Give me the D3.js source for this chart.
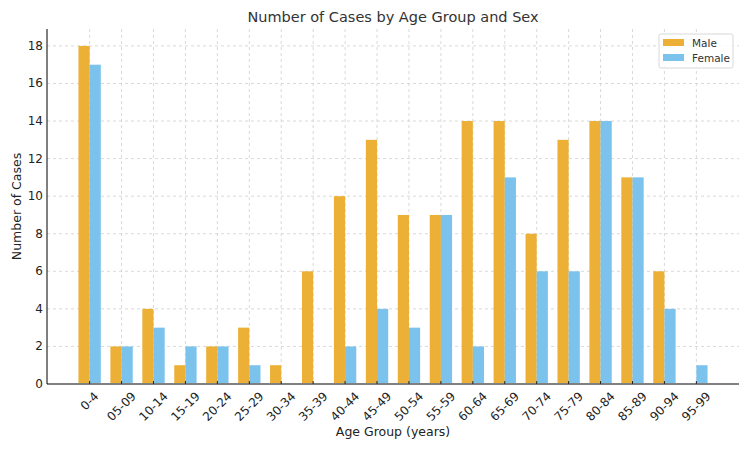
<!DOCTYPE html>
<html>
<head>
<meta charset="utf-8">
<script src="https://cdn.jsdelivr.net/npm/d3@7"></script>
<style>
  body { margin: 0; background: #fff; }
  svg { font-family: "DejaVu Sans", sans-serif; }
  .grid line { stroke: #cfcfcf; stroke-dasharray: 3,3; stroke-width: 0.8; }
</style>
</head>
<body>
<div id="chart"></div>
<script>
'use strict';

const ageGroups = ['0-4', '05-09', '10-14', '15-19', '20-24', '25-29', '30-34', '35-39', '40-44', '45-49',
    '50-54', '55-59', '60-64', '65-69', '70-74', '75-79', '80-84', '85-89', '90-94', '95-99'];
const maleCases = [18, 2, 4, 1, 2, 3, 1, 6, 10, 13, 9, 9, 14, 14, 8, 13, 14, 11, 6, 0];
const femaleCases = [17, 2, 3, 2, 2, 1, 0, 0, 2, 4, 3, 9, 2, 11, 6, 6, 14, 11, 4, 1];
const yTicks = [0, 2, 4, 6, 8, 10, 12, 14, 16, 18];
const seriesNames = ['Male', 'Female'];
const seriesColors = ['#ebb035', '#7bc3ec'];

// Config
const w = 750, h = 450;
const margin = {top: 29, right: 11, bottom: 66, left: 47};
const plotW = w - margin.left - margin.right;
const plotH = h - margin.top - margin.bottom;
const barW = 0.35;

const svg = d3.select('#chart')
    .append('svg')
    .attr('width', w)
    .attr('height', h);

const g = svg.append('g')
    .attr('transform', `translate(${margin.left},${margin.top})`);

// Scales (matplotlib-like 5% margins)
const lo = -barW, hi = ageGroups.length - 1 + barW;
const pad = (hi - lo) * 0.05;
const x = d3.scaleLinear().domain([lo - pad, hi + pad]).range([0, plotW]);
const y = d3.scaleLinear().domain([0, 18 * 1.05]).range([plotH, 0]);

// Grid
const grid = g.append('g').attr('class', 'grid');
grid.selectAll('.gy')
    .data(yTicks)
    .join('line')
    .attr('x1', 0).attr('x2', plotW)
    .attr('y1', d => y(d)).attr('y2', d => y(d));
grid.selectAll('.gx')
    .data(ageGroups)
    .join('line')
    .attr('x1', (d, i) => x(i)).attr('x2', (d, i) => x(i))
    .attr('y1', 0).attr('y2', plotH);

// Bars
const series = [maleCases, femaleCases];
series.forEach((vals, s) => {
    g.append('g')
        .selectAll('rect')
        .data(vals)
        .join('rect')
        .attr('x', (d, i) => x(i + (s === 0 ? -barW : 0)))
        .attr('width', x(barW) - x(0))
        .attr('y', d => y(d))
        .attr('height', d => y(0) - y(d))
        .attr('fill', seriesColors[s]);
});

// Axes
g.append('line')
    .attr('x1', 0).attr('x2', plotW)
    .attr('y1', plotH).attr('y2', plotH)
    .attr('stroke', '#808080').attr('stroke-width', 2);
g.append('line')
    .attr('x1', 0).attr('x2', 0)
    .attr('y1', 0).attr('y2', plotH)
    .attr('stroke', '#000').attr('stroke-width', 1);

// x ticks
g.append('g')
    .selectAll('line')
    .data(ageGroups)
    .join('line')
    .attr('x1', (d, i) => x(i)).attr('x2', (d, i) => x(i))
    .attr('y1', plotH - 3).attr('y2', plotH)
    .attr('stroke', '#222').attr('stroke-width', 1);

// x labels rotated 45, centered on tick
const xl = g.append('g')
    .selectAll('text')
    .data(ageGroups)
    .join('text')
    .attr('font-size', 12)
    .attr('fill', '#222')
    .attr('text-anchor', 'middle')
    .attr('dominant-baseline', 'central')
    .text(d => d);
xl.each(function (d, i) {
    const tw = this.getComputedTextLength();
    const box = (tw + 12) * Math.SQRT1_2;
    d3.select(this).attr('transform', `translate(${x(i)},${plotH + 6 + box / 2}) rotate(-45)`);
});

// y labels
g.append('g')
    .selectAll('text')
    .data(yTicks)
    .join('text')
    .attr('x', -4)
    .attr('y', d => y(d))
    .attr('font-size', 12)
    .attr('fill', '#222')
    .attr('text-anchor', 'end')
    .attr('dominant-baseline', 'central')
    .text(d => d);

// Titles
svg.append('text')
    .attr('x', margin.left + plotW / 2)
    .attr('y', 22)
    .attr('text-anchor', 'middle')
    .attr('font-size', 14.5)
    .attr('fill', '#333')
    .text('Number of Cases by Age Group and Sex');

svg.append('text')
    .attr('x', margin.left + plotW / 2)
    .attr('y', 436)
    .attr('text-anchor', 'middle')
    .attr('font-size', 12.5)
    .attr('fill', '#222')
    .text('Age Group (years)');

svg.append('text')
    .attr('transform', `translate(21,${margin.top + plotH / 2}) rotate(-90)`)
    .attr('text-anchor', 'middle')
    .attr('font-size', 12.5)
    .attr('fill', '#222')
    .text('Number of Cases');

// Legend
const leg = svg.append('g').attr('transform', 'translate(659,34)');
leg.append('rect')
    .attr('width', 74).attr('height', 34).attr('rx', 2)
    .attr('fill', '#fff').attr('fill-opacity', 0.85)
    .attr('stroke', '#d8d8d8');
seriesNames.forEach((n, i) => {
    leg.append('rect')
        .attr('x', 4).attr('y', 5 + i * 15)
        .attr('width', 21).attr('height', 7)
        .attr('fill', seriesColors[i]);
    leg.append('text')
        .attr('x', 33).attr('y', 9 + i * 15)
        .attr('dominant-baseline', 'central')
        .attr('font-size', 10.5)
        .attr('fill', '#333')
        .text(n);
});
</script>
</body>
</html>
